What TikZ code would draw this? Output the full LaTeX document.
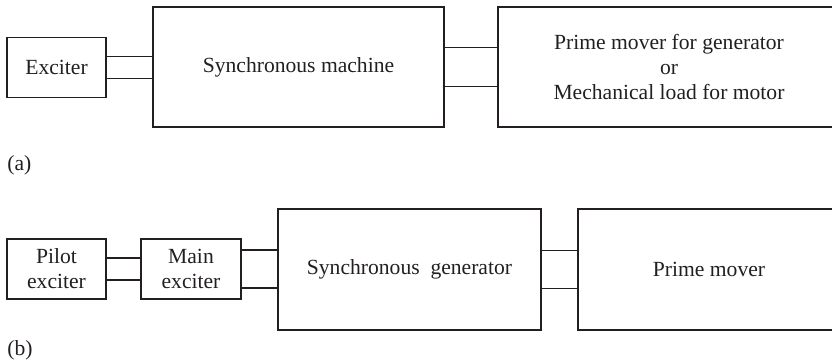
\documentclass[tikz,border=0pt]{standalone}
\usepackage{fontspec}
\setmainfont{Liberation Serif}
\usetikzlibrary{positioning}
\definecolor{inkblk}{HTML}{231F20}
\tikzset{
  blk/.style={draw=inkblk, text=inkblk, line width=0.7pt, inner sep=0pt, align=center},
  lnk/.style={draw=inkblk, line width=0.7pt},
  tag/.style={text=inkblk, inner sep=0pt, anchor=west}
}

\begin{document}
\begin{tikzpicture}[x=0.5pt, y=-0.5pt, font=\fontsize{10.8}{12.4}\selectfont]
  \useasboundingbox (0,0) rectangle (832,362);
  \clip (0,0) rectangle (832,362);
  % (a) exciter, machine and prime mover
  \node[blk, minimum width=49.5pt, minimum height=30pt] (exc) at (56.5,67.5) {Exciter};
  \node[blk, minimum width=145.5pt, minimum height=60pt] (sm) at (298.5,67) {Synchronous machine};
  \node[blk, minimum width=171pt, minimum height=60pt] (pm) at (669,67) {Prime mover for generator\\or\\Mechanical load for motor};
  \foreach \d in {-5.5pt,5.5pt}
    \draw[lnk] ([yshift=\d]exc.east) -- ([yshift=\d]exc.east -| sm.west);
  \foreach \d in {-9.75pt,9.75pt}
    \draw[lnk] ([yshift=\d]sm.east) -- ([yshift=\d]sm.east -| pm.west);
  \node[tag] (lbla) at (7,165) {(a)};
  % (b) pilot and main exciter
  \node[blk, minimum width=49.5pt, minimum height=30pt] (pe) at (56.5,269) {Pilot\\exciter};
  \node[blk, minimum width=50pt, minimum height=30pt] (me) at (191,269) {Main\\exciter};
  \node[blk, minimum width=131.5pt, minimum height=60.5pt] (sg) at (409.5,269.5) {Synchronous\ \ generator};
  \node[blk, minimum width=131pt, minimum height=60.5pt] (pmb) at (709,269.5) {Prime mover};
  \foreach \d in {-5.5pt,5.5pt}
    \draw[lnk] ([yshift=\d]pe.east) -- ([yshift=\d]pe.east -| me.west);
  \foreach \d in {-9.5pt,9.5pt} {
    \draw[lnk] ([yshift=\d]me.east) -- ([yshift=\d]me.east -| sg.west);
    \draw[lnk] ([yshift=\d]sg.east) -- ([yshift=\d]sg.east -| pmb.west);
  }
  \node[tag] (lblb) at (7,350) {(b)};
\end{tikzpicture}
\end{document}
